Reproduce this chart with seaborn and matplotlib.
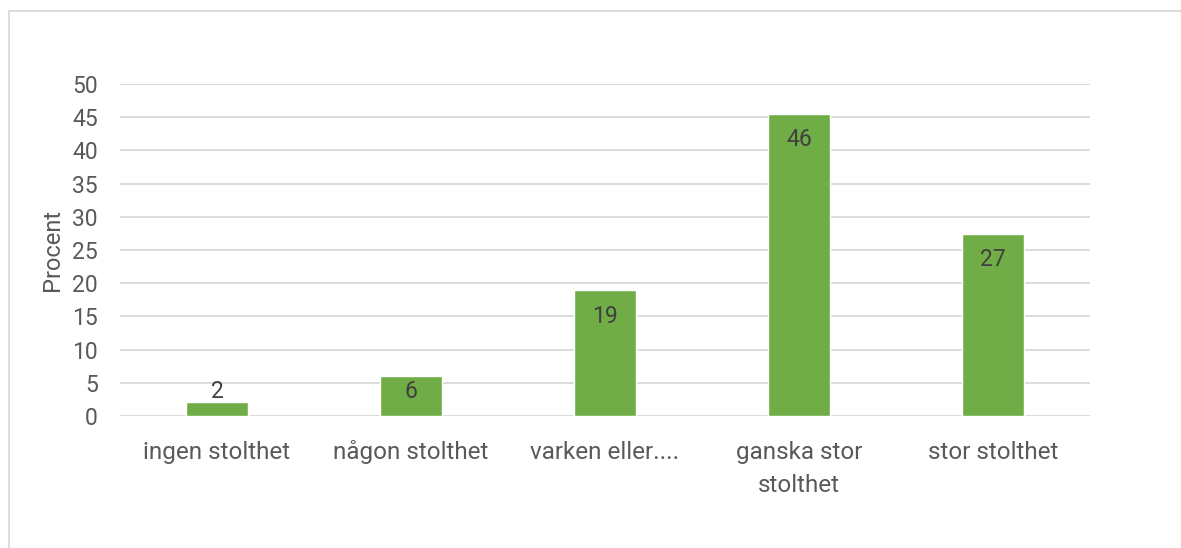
import matplotlib
matplotlib.use("Agg")
import matplotlib.pyplot as plt
import matplotlib.patches as mpatches
import matplotlib.transforms as mtrans
import seaborn as sns
import pandas as pd

# Data
categories = ["ingen stolthet", "någon stolthet", "varken eller....", "ganska stor\nstolthet", "stor stolthet"]
values = [2.1, 6.0, 18.9, 45.5, 27.4]
labels = ["2", "6", "19", "46", "27"]

df = pd.DataFrame({"kategori": categories, "procent": values})

sns.set_theme(style="white")
plt.rcParams["font.family"] = ["Roboto", "DejaVu Sans"]

fig = plt.figure(figsize=(11.81, 5.48), dpi=100)
ax = fig.add_axes([0.1016, 0.2409, 0.8213, 0.6058])

sns.barplot(data=df, x="kategori", y="procent", color="#70AD47", width=0.315,
            saturation=1, ax=ax, zorder=3)

ax.set_ylim(0, 50)
ax.set_yticks(range(0, 51, 5))
ax.set_xlim(-0.5, 4.5)
ax.grid(axis="y", color="#D9D9D9", linewidth=1.3, zorder=0)
ax.set_axisbelow(True)
for s in ax.spines.values():
    s.set_visible(False)

ax.tick_params(axis="y", length=0, pad=16, labelsize=16.5, labelcolor="#595959")
ax.tick_params(axis="x", length=0, labelbottom=False)
ax.set_xlabel("")
ax.set_ylabel("Procent", fontsize=17, color="#595959", labelpad=6)

# category labels, one baseline per line (Excel wraps the long one)
base = ax.get_xaxis_transform()
for i, cat in enumerate(categories):
    for k, line in enumerate(cat.split("\n")):
        off = mtrans.ScaledTranslation(0, -(31 + 24 * k) / 72, fig.dpi_scale_trans)
        ax.text(i, 0, line, transform=base + off, ha="center", va="baseline",
                fontsize=17.5, color="#595959")

# Excel style inside-end labels, kept above a minimum height for short bars
for i, (v, lab) in enumerate(zip(values, labels)):
    ypos = max(v - 3.9, 3.7)
    ax.text(i, ypos, lab, ha="center", va="center", fontsize=16.5, color="#404040", zorder=4)

# outer chart border
fig.patches.append(mpatches.Rectangle((9 / 1181, -0.1), 1.2, 1 - 11 / 548 + 0.1,
                                      transform=fig.transFigure, fill=False,
                                      edgecolor="#D9D9D9", linewidth=1.3))

fig.savefig("out.png", dpi=100)
